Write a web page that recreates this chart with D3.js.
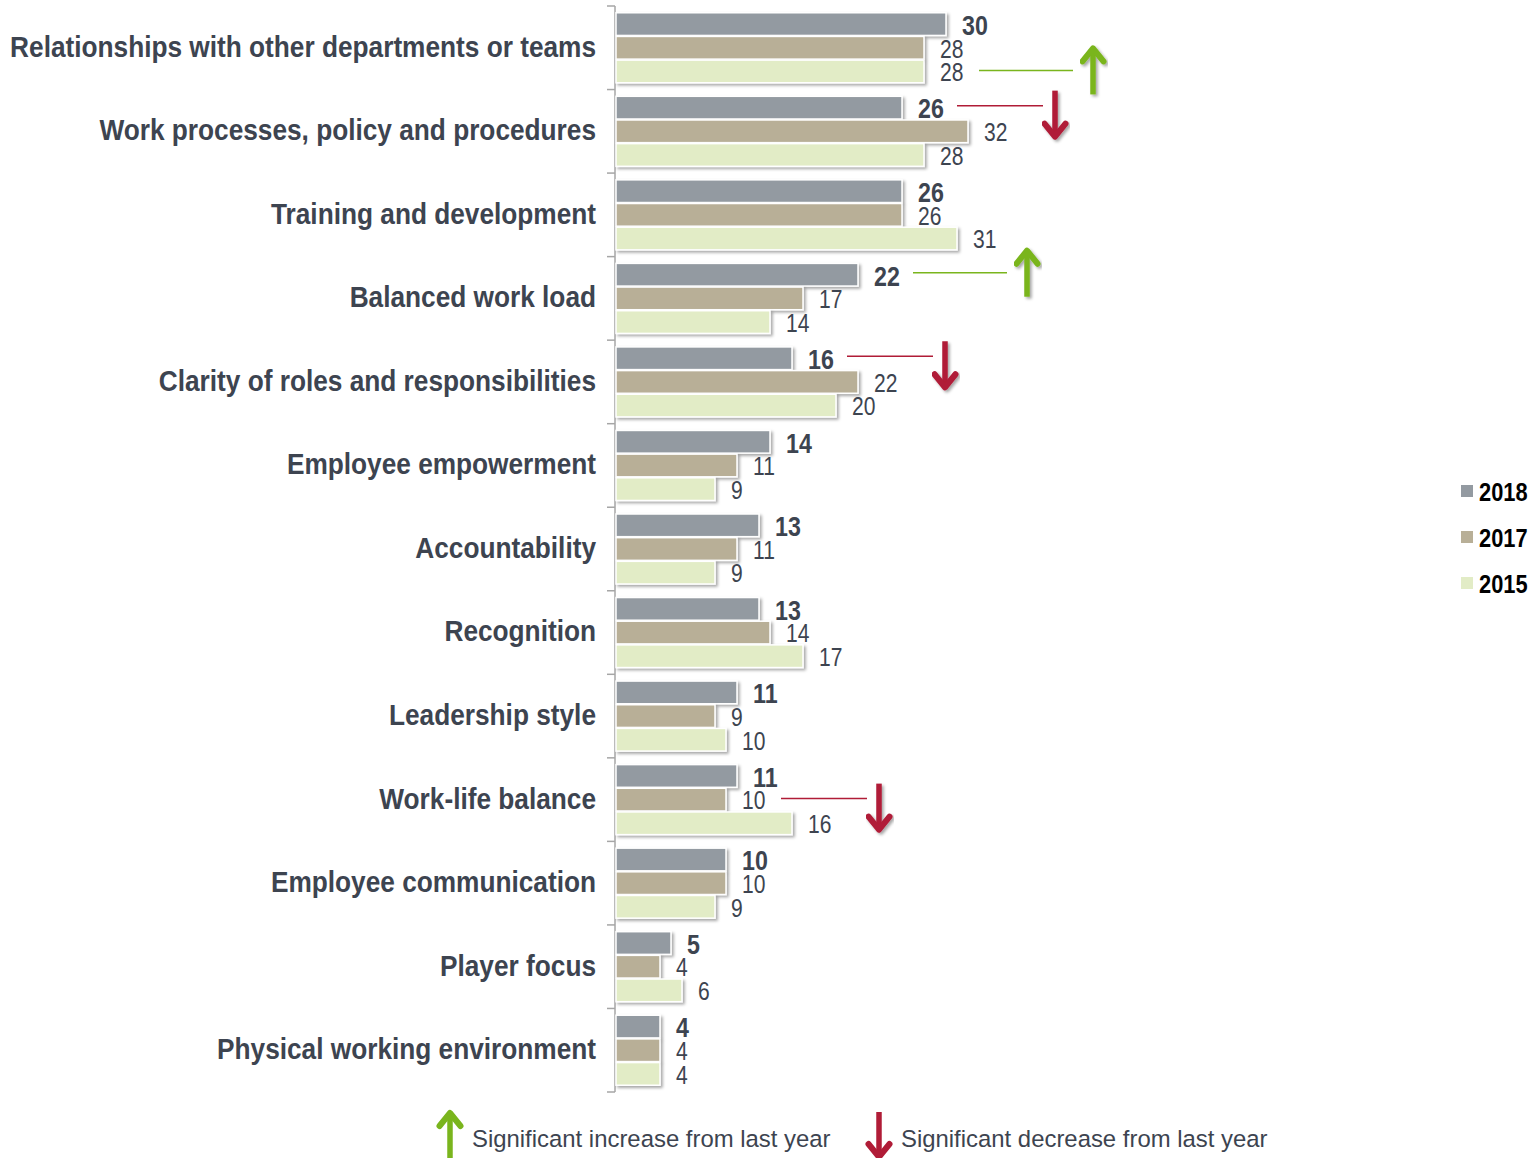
<!DOCTYPE html>
<html>
<head>
<meta charset="utf-8">
<script src="https://cdn.jsdelivr.net/npm/d3@7"></script>
<style>
  body { margin: 0; background: #fff; }
  svg { display: block; }
</style>
</head>
<body>
<div id="chart"></div>
<script>
// categories, top to bottom
var categories = [
    'Relationships with other departments or teams',
    'Work processes, policy and procedures',
    'Training and development',
    'Balanced work load',
    'Clarity of roles and responsibilities',
    'Employee empowerment',
    'Accountability',
    'Recognition',
    'Leadership style',
    'Work-life balance',
    'Employee communication',
    'Player focus',
    'Physical working environment'
];

var years = ['2018', '2017', '2015'];

var values2018 = [30, 26, 26, 22, 16, 14, 13, 13, 11, 11, 10, 5, 4];
var values2017 = [28, 32, 26, 17, 22, 11, 11, 14, 9, 10, 10, 4, 4];
var values2015 = [28, 28, 31, 14, 20, 9, 9, 17, 10, 16, 9, 6, 4];

// significance markers: category, direction, which year row the line is drawn against
var sigCategories = ['Relationships with other departments or teams', 'Work processes, policy and procedures',
    'Balanced work load', 'Clarity of roles and responsibilities', 'Work-life balance'];
var sigDirections = ['up', 'down', 'up', 'down', 'down'];
var sigYears = ['2015', '2018', '2018', '2018', '2017'];

var legendLabels = ['Significant increase from last year', 'Significant decrease from last year'];

var colors = {'2018': '#939aa1', '2017': '#b8af97', '2015': '#e2ecc6'};
var textColor = '#3d4450';
var upColor = '#7ab51d';
var downColor = '#b01c37';

// no Arial Narrow here, so squeeze Liberation Sans horizontally
var sans = '"Liberation Sans", Arial, sans-serif';

var width = 1535, height = 1158;

var svg = d3.select('#chart').append('svg')
    .attr('width', width)
    .attr('height', height);

// drop shadow for bars and arrows
var defs = svg.append('defs');
var f = defs.append('filter').attr('id', 'shadow')
    .attr('x', '-10%').attr('y', '-30%').attr('width', '130%').attr('height', '180%');
f.append('feDropShadow')
    .attr('dx', 2).attr('dy', 2).attr('stdDeviation', 1.5)
    .attr('flood-color', '#000').attr('flood-opacity', 0.35);

function narrowText(g, tx, ty, str, sq) {
    return g.append('text')
        .attr('transform', 'translate(' + tx + ',' + ty + ') scale(' + sq + ',1)')
        .attr('dominant-baseline', 'central')
        .attr('font-family', sans)
        .text(str);
}

var seriesByYear = {'2018': values2018, '2017': values2017, '2015': values2015};

var x = d3.scaleLinear().domain([0, 30]).range([616, 946]);

var y0 = d3.scaleBand()
    .domain(categories)
    .range([6, 1092])
    .paddingInner(0.15)
    .paddingOuter(0.075);

var y1 = d3.scaleBand()
    .domain(years)
    .range([0, y0.bandwidth()])
    .padding(0);

// axis with ticks at band boundaries
var axisG = svg.append('g');
axisG.append('line')
    .attr('x1', 615).attr('x2', 615)
    .attr('y1', 6).attr('y2', 1092)
    .attr('stroke', '#a6a6a6')
    .attr('stroke-width', 1.5);

var boundaries = categories.map(function(c) { return y0(c) - y0.step() * y0.paddingInner() / 2; });
boundaries.push(1092);
boundaries[0] = 6;
axisG.selectAll('.tick')
    .data(boundaries)
    .enter().append('line')
    .attr('x1', 607).attr('x2', 615)
    .attr('y1', function(d) { return d; })
    .attr('y2', function(d) { return d; })
    .attr('stroke', '#a6a6a6')
    .attr('stroke-width', 1.5);

// category labels
var catG = svg.append('g');
categories.forEach(function(c) {
    narrowText(catG, 596, y0(c) + y0.bandwidth() / 2 - 1, c, 0.905)
        .attr('text-anchor', 'end')
        .attr('font-weight', 'bold')
        .attr('font-size', 29)
        .attr('fill', textColor);
});

// bars
var groups = svg.append('g').selectAll('g')
    .data(categories)
    .enter().append('g')
    .attr('transform', function(d) { return 'translate(0,' + y0(d) + ')'; });

groups.each(function(cat, i) {
    var g = d3.select(this);
    years.forEach(function(yr) {
        var v = seriesByYear[yr][i];
        g.append('rect')
            .attr('x', x(0))
            .attr('y', y1(yr) + 0.5)
            .attr('width', x(v) - x(0))
            .attr('height', y1.bandwidth() - 1)
            .attr('fill', colors[yr])
            .attr('stroke', '#fff')
            .attr('stroke-width', 1.5)
            .attr('filter', 'url(#shadow)');
    });
    years.forEach(function(yr) {
        var v = seriesByYear[yr][i];
        var bold = yr == '2018';
        narrowText(g, x(v) + 16, y1(yr) + y1.bandwidth() / 2 + 1, v, bold ? 0.83 : 0.81)
            .attr('font-size', bold ? 28 : 26)
            .attr('font-weight', bold ? 'bold' : 'normal')
            .attr('fill', textColor);
    });
});

function drawArrow(g, cx, top, len, dir, color) {
    var bottom = top + len;
    var tip = dir == 'up' ? top : bottom;
    var s = dir == 'up' ? 1 : -1;
    g.append('path')
        .attr('d', 'M' + cx + ',' + (dir == 'up' ? bottom : top) + 'L' + cx + ',' + (tip + s * 3))
        .attr('stroke', color)
        .attr('stroke-width', 5.5)
        .attr('fill', 'none');
    g.append('path')
        .attr('d', 'M' + (cx - 10.5) + ',' + (tip + s * 14) + 'L' + cx + ',' + (tip + s * 1) + 'L' + (cx + 10.5) + ',' + (tip + s * 14))
        .attr('stroke', color)
        .attr('stroke-width', 6)
        .attr('stroke-linejoin', 'round')
        .attr('stroke-linecap', 'round')
        .attr('fill', 'none');
}

// significance lines + arrows
var sigG = svg.append('g');
sigCategories.forEach(function(cat, k) {
    var i = categories.indexOf(cat);
    var yr = sigYears[k];
    var v = seriesByYear[yr][i];
    var up = sigDirections[k] == 'up';
    var color = up ? upColor : downColor;
    var ly = y0(cat) + y1(yr) + y1.bandwidth() / 2 - (yr == '2018' ? 2 : 1);
    var x1 = x(v) + 55;
    var x2 = x1 + (up ? 94 : 86);
    sigG.append('line')
        .attr('x1', x1).attr('x2', x2)
        .attr('y1', ly).attr('y2', ly)
        .attr('stroke', color)
        .attr('stroke-width', 1.5);
    var g = sigG.append('g').attr('filter', 'url(#shadow)');
    var top = up ? ly - 23 : ly - 15;
    drawArrow(g, x2 + (up ? 20 : 12), top, 47, sigDirections[k], color);
});

// year legend
var legend = svg.append('g');
years.forEach(function(yr, i) {
    var ly = 491 + i * 46;
    legend.append('rect')
        .attr('x', 1461).attr('y', ly - 6)
        .attr('width', 12).attr('height', 12)
        .attr('fill', colors[yr]);
    narrowText(legend, 1479, ly + 1, yr, 0.84)
        .attr('font-weight', 'bold')
        .attr('font-size', 26)
        .attr('fill', '#000');
});

// significance legend
var sigLegend = svg.append('g');
var legX = [450, 879];
var legDir = ['up', 'down'];
legendLabels.forEach(function(lbl, i) {
    var c = legDir[i] == 'up' ? upColor : downColor;
    drawArrow(sigLegend.append('g'), legX[i], 1112, 46, legDir[i], c);
    sigLegend.append('text')
        .attr('x', legX[i] + 22)
        .attr('y', 1138)
        .attr('dominant-baseline', 'central')
        .attr('font-family', sans)
        .attr('font-size', 23.9)
        .attr('fill', textColor)
        .text(lbl);
});
</script>
</body>
</html>
